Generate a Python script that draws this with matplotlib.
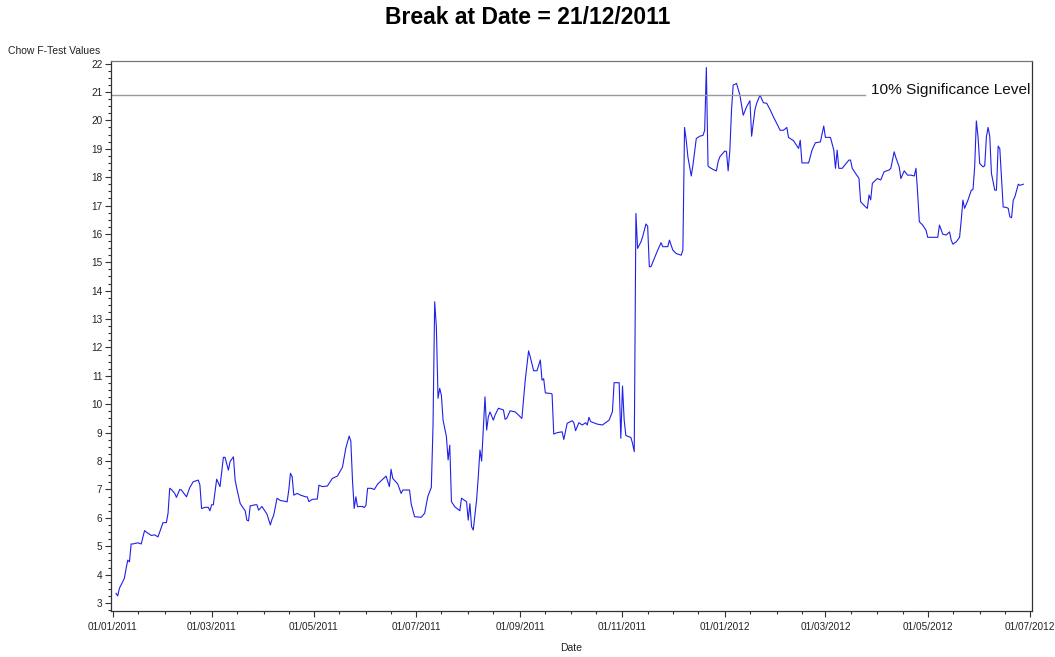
import numpy as np
import pandas as pd
import matplotlib
matplotlib.use("Agg")
from matplotlib import pyplot as plt
import matplotlib.dates as mdates
from matplotlib import font_manager
from matplotlib.ticker import MultipleLocator

# days after 01/01/2011 and Chow F-test values
day_offset = [2, 3, 4, 6, 7, 8, 9, 10, 11, 12, 15, 17, 19, 20, 23, 25, 27, 30, 32, 33,
              34, 35, 37, 38, 40, 41, 44, 46, 48, 51, 52, 53, 55, 57, 58, 59, 60, 62, 63, 64,
              66, 67, 69, 70, 72, 73, 74, 76, 78, 79, 80, 81, 82, 85, 86, 87, 89, 92, 94, 95,
              96, 98, 100, 103, 104, 105, 106, 107, 108, 110, 112, 115, 116, 117, 119, 121, 122, 123, 125, 128,
              131, 134, 136, 137, 139, 141, 142, 143, 144, 145, 146, 147, 149, 150, 151, 152, 154, 156, 158, 160,
              163, 165, 166, 167, 170, 172, 173, 177, 178, 180, 184, 186, 188, 190, 191, 192, 193, 194, 195, 196,
              197, 199, 200, 201, 202, 204, 207, 208, 211, 212, 213, 214, 215, 217, 218, 219, 220, 222, 223, 224,
              225, 227, 228, 230, 233, 234, 235, 237, 240, 242, 244, 246, 248, 249, 251, 253, 255, 256, 257, 258,
              261, 262, 263, 265, 268, 269, 271, 274, 275, 276, 278, 280, 282, 283, 284, 285, 289, 292, 296, 298,
              299, 302, 303, 304, 305, 306, 309, 310, 311, 312, 313, 315, 316, 318, 319, 320, 321, 323, 325, 327,
              328, 331, 332, 334, 336, 339, 340, 341, 342, 343, 345, 346, 348, 350, 352, 353, 354, 355, 356, 358,
              360, 361, 362, 365, 366, 367, 368, 369, 370, 372, 374, 376, 378, 380, 381, 383, 384, 386, 388, 390,
              392, 394, 396, 398, 400, 402, 403, 406, 409, 410, 411, 415, 417, 419, 422, 424, 425, 428, 430, 431,
              432, 433, 435, 439, 440, 441, 444, 445, 446, 449, 450, 451, 452, 453, 454, 456, 458, 460, 463, 464,
              466, 467, 469, 470, 472, 474, 476, 478, 479, 480, 481, 483, 485, 486, 488, 492, 493, 495, 497, 499,
              500, 501, 503, 505, 506, 507, 508, 510, 512, 513, 514, 515, 516, 517, 519, 520, 521, 522, 523, 524,
              525, 526, 527, 528, 529, 530, 531, 533, 534, 535, 536, 537, 538, 540, 541, 543]
f_values = [3.34, 3.25, 3.52, 3.75, 3.88, 4.22, 4.51, 4.45, 5.08, 5.08, 5.12, 5.08, 5.55, 5.50, 5.38, 5.40, 5.33, 5.83, 5.83, 6.16,
            7.04, 7.00, 6.86, 6.72, 7.00, 6.98, 6.74, 7.07, 7.27, 7.33, 7.16, 6.33, 6.37, 6.37, 6.25, 6.46, 6.46, 7.36, 7.23, 7.10,
            8.13, 8.13, 7.68, 7.98, 8.15, 7.33, 7.04, 6.51, 6.33, 6.25, 5.92, 5.89, 6.42, 6.46, 6.46, 6.27, 6.40, 6.13, 5.75, 5.95,
            6.09, 6.69, 6.61, 6.58, 6.56, 6.98, 7.57, 7.45, 6.80, 6.86, 6.80, 6.74, 6.74, 6.57, 6.65, 6.66, 6.66, 7.15, 7.10, 7.12,
            7.39, 7.47, 7.68, 7.78, 8.45, 8.88, 8.70, 7.31, 6.33, 6.74, 6.39, 6.40, 6.40, 6.36, 6.44, 7.04, 7.04, 7.00, 7.19, 7.30,
            7.47, 7.10, 7.71, 7.39, 7.19, 6.86, 6.98, 6.98, 6.49, 6.04, 6.02, 6.16, 6.77, 7.07, 9.21, 13.61, 12.73, 10.21, 10.56, 10.32,
            9.44, 8.86, 8.04, 8.56, 6.57, 6.39, 6.25, 6.69, 6.57, 5.92, 6.50, 5.69, 5.57, 6.63, 7.45, 8.39, 8.00, 10.26, 9.09, 9.56,
            9.73, 9.44, 9.62, 9.86, 9.80, 9.47, 9.51, 9.77, 9.73, 9.62, 9.50, 10.85, 11.88, 11.67, 11.18, 11.18, 11.56, 10.85, 10.90, 10.40,
            10.38, 10.36, 8.95, 9.00, 9.03, 8.76, 9.33, 9.42, 9.35, 9.07, 9.35, 9.27, 9.35, 9.27, 9.54, 9.39, 9.30, 9.27, 9.44, 9.74,
            10.76, 10.76, 8.80, 10.64, 9.44, 8.90, 8.83, 8.62, 8.33, 16.72, 15.49, 15.72, 15.90, 16.35, 16.27, 14.84, 14.85, 15.14, 15.43, 15.69,
            15.55, 15.55, 15.78, 15.43, 15.31, 15.25, 15.43, 19.75, 19.30, 18.71, 18.04, 18.42, 19.36, 19.44, 19.47, 19.65, 21.86, 18.39, 18.34, 18.27,
            18.22, 18.54, 18.71, 18.92, 18.90, 18.22, 18.93, 20.36, 21.24, 21.30, 20.89, 20.18, 20.48, 20.69, 19.44, 20.38, 20.60, 20.89, 20.62, 20.60,
            20.38, 20.12, 19.89, 19.65, 19.65, 19.75, 19.40, 19.28, 19.01, 19.30, 18.50, 18.50, 18.95, 19.21, 19.24, 19.80, 19.40, 19.40, 18.95, 18.31,
            18.95, 18.31, 18.31, 18.60, 18.60, 18.31, 18.04, 17.96, 17.13, 16.95, 16.90, 17.37, 17.20, 17.78, 17.84, 17.95, 17.90, 18.19, 18.25, 18.31,
            18.89, 18.69, 18.36, 17.95, 18.22, 18.07, 18.07, 18.04, 18.31, 17.43, 16.43, 16.31, 16.13, 15.88, 15.88, 15.88, 16.31, 15.99, 15.96, 16.07,
            15.78, 15.64, 15.72, 15.88, 16.49, 17.19, 16.90, 17.19, 17.54, 17.56, 18.36, 19.98, 19.42, 18.48, 18.36, 18.40, 19.42, 19.75, 19.44, 18.13,
            17.83, 17.54, 17.54, 19.09, 19.00, 17.95, 16.95, 16.93, 16.90, 16.60, 16.57, 17.19, 17.31, 17.75, 17.71, 17.75]

sig_level = 20.9
sig_label = "10% Significance Level"
title = "Break at Date = 21/12/2011"

dates = pd.Timestamp("2011-01-01") + pd.to_timedelta(day_offset, unit="D")

names = {f.name for f in font_manager.fontManager.ttflist}
base = "Liberation Sans"
if "Liberation Sans Narrow" in names:
    title_font, title_size = "Liberation Sans Narrow", 20
else:
    title_font, title_size = base, 16.5
plt.rcParams["font.family"] = [base, "DejaVu Sans"]

fig = plt.figure(figsize=(10.55, 6.57), dpi=100)
ax = fig.add_axes([0.1049, 0.0705, 0.873, 0.8371])

ax.plot(dates, f_values, color="#2020e8", lw=0.8)
ax.axhline(sig_level, xmin=0, xmax=0.819, color="#999999", lw=1.0)
ax.text(0.825, sig_level + 0.17, sig_label, transform=ax.get_yaxis_transform(),
        va="center", ha="left", fontsize=11.1, color="#111111")

ax.set_xlim(pd.Timestamp("2010-12-30 19:00"), pd.Timestamp("2012-07-02"))
ax.set_ylim(2.73, 22.1)

ax.xaxis.set_major_locator(mdates.MonthLocator(bymonth=[1, 3, 5, 7, 9, 11]))
ax.xaxis.set_major_formatter(mdates.DateFormatter("%d/%m/%Y"))
ax.xaxis.set_minor_locator(mdates.MonthLocator(bymonthday=[1, 16]))
ax.yaxis.set_major_locator(MultipleLocator(1))
ax.yaxis.set_minor_locator(MultipleLocator(0.25))

ax.tick_params(axis="both", which="major", length=4, width=0.8, labelsize=7.2,
               colors="#333333", labelcolor="#222222", pad=2)
ax.tick_params(axis="x", which="major", pad=4.3)
ax.tick_params(axis="both", which="minor", length=2.5, width=0.8, colors="#333333")

for side in ["left", "bottom", "right", "top"]:
    ax.spines[side].set_color("#333333")
    ax.spines[side].set_linewidth(0.9)
ax.spines["top"].set_color("#777777")

fig.text(8 / 1055, 1 - 51 / 657, "Chow F-Test Values", ha="left", va="center",
         fontsize=7.5, color="#222222")
fig.text(0.5414, 1 - 648 / 657, "Date", ha="center", va="center",
         fontsize=7.5, color="#222222")
fig.text(0.5, 1 - 18 / 657, title, ha="center", va="center", fontsize=title_size,
         fontweight="bold", family=[title_font, base, "DejaVu Sans"])

fig.savefig("out.png", dpi=100)
